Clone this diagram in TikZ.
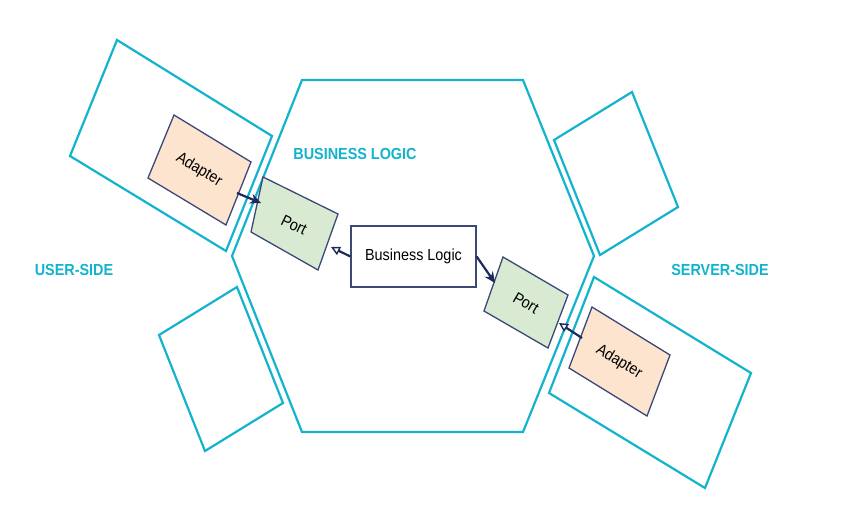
\documentclass[tikz,border=0pt]{standalone}
\usepackage{fontspec}
\setmainfont{Liberation Sans}
\usetikzlibrary{arrows.meta}
\definecolor{hexcyan}{RGB}{18,180,205}
\definecolor{boxedge}{RGB}{60,72,120}
\definecolor{adfill}{RGB}{252,228,206}
\definecolor{portfill}{RGB}{217,234,211}
\definecolor{arrowc}{RGB}{28,42,94}
\newcommand{\cond}[1]{\scalebox{0.9}[1]{#1}}
\begin{document}
\begin{tikzpicture}[x=1pt,y=-1pt,
 zone/.style={draw=hexcyan,line width=2.2pt,line join=miter},
 adbox/.style={draw=boxedge,line width=1.3pt,fill=adfill,line join=miter},
 portbox/.style={draw=boxedge,line width=1.3pt,fill=portfill,line join=miter},
 lbl/.style={font=\fontsize{16}{19}\selectfont, inner sep=0pt},
 side/.style={font=\fontsize{16}{19}\selectfont\bfseries, text=hexcyan, inner sep=0pt},
 solidarrow/.style={draw=arrowc,line width=2.2pt,-{Stealth[length=11pt,width=10pt]}},
 openarrow/.style={draw=arrowc,line width=2.2pt,-{Triangle[open,length=9pt,width=9pt,fill=white,line width=1.4pt]}},
]
\useasboundingbox (0,0) rectangle (843,525);
\fill[white] (0,0) rectangle (843,525);
% hexagon (business logic)
\draw[zone] (302,80) -- (523,80) -- (594,256) -- (523,432) -- (302,432) -- (232,256) -- cycle;
% outer zones
\draw[zone] (117,40) -- (272,136) -- (226,251) -- (70,156) -- cycle;
\draw[zone] (159,335) -- (237,287) -- (283,403) -- (205,451) -- cycle;
\draw[zone] (554,140) -- (632,92) -- (678,207) -- (600,255) -- cycle;
\draw[zone] (594,277) -- (751,373) -- (705,488) -- (549,393) -- cycle;
% adapters and ports
\draw[adbox] (174,115) -- (251,162) -- (226,225) -- (148,178) -- cycle;
\draw[portbox] (263,177) -- (338,214) -- (318,270) -- (251,232) -- cycle;
\draw[portbox] (503,257) -- (568,295) -- (548,348) -- (484,311) -- cycle;
\draw[adbox] (592,307) -- (670,355) -- (647,416) -- (569,368) -- cycle;
\node[lbl,rotate=-31] (ladapter) at (199,170) {\cond{Adapter}};
\node[lbl,rotate=-26] (lport) at (294,225) {\cond{Port}};
\node[lbl,rotate=-30] (rport) at (526,303) {\cond{Port}};
\node[lbl,rotate=-31] (radapter) at (619,362) {\cond{Adapter}};
% business logic box
\node[draw=boxedge,line width=1.3pt,fill=white,minimum width=125pt,minimum height=61pt,inner sep=0pt,font=\fontsize{16}{19}\selectfont] (bl) at (413.5,256.5) {\cond{Business Logic}};
% labels
\node[side] (lbltop) at (355,154) {\cond{BUSINESS LOGIC}};
\node[side] (lbluser) at (74,270) {\cond{USER-SIDE}};
\node[side] (lblserver) at (720,270) {\cond{SERVER-SIDE}};
% connector end points
\coordinate (la-out) at (237,193);
\coordinate (lp-in) at (261,203);
\coordinate (lp-r) at (331,247);
\coordinate (rp-in) at (495,283);
\coordinate (ra-out) at (582,338);
\coordinate (rp-r) at (559,323);
\draw[solidarrow] (la-out) -- (lp-in);
\draw[openarrow] (bl.west) -- (lp-r);
\draw[solidarrow] (bl.east) -- (rp-in);
\draw[openarrow] (ra-out) -- (rp-r);
\end{tikzpicture}
\end{document}
